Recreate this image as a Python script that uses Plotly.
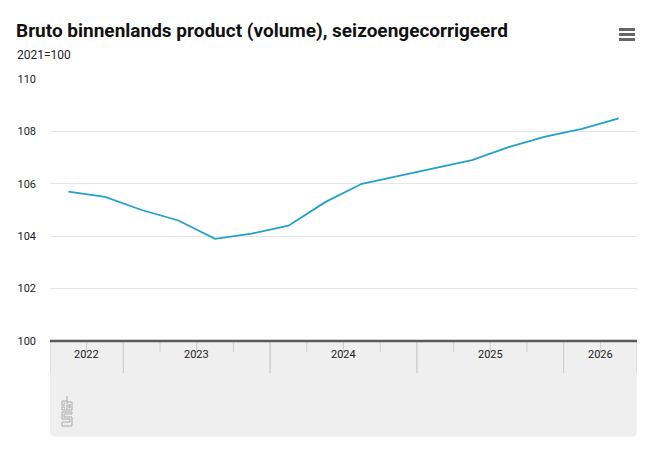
import plotly.graph_objects as go

quarters = [
    "2022-Q3", "2022-Q4",
    "2023-Q1", "2023-Q2", "2023-Q3", "2023-Q4",
    "2024-Q1", "2024-Q2", "2024-Q3", "2024-Q4",
    "2025-Q1", "2025-Q2", "2025-Q3", "2025-Q4",
    "2026-Q1", "2026-Q2",
]
bbp = [105.7, 105.5, 105.0, 104.6, 103.9, 104.1, 104.4, 105.3,
       106.0, 106.3, 106.6, 106.9, 107.4, 107.8, 108.1, 108.5]
years = ["2022", "2023", "2024", "2025", "2026"]
y_ticks = [100, 102, 104, 106, 108, 110]

font = "Liberation Sans Narrow, Roboto, Arial Narrow, sans-serif"
idx = list(range(len(quarters)))

# page has an 8px body margin, so plot area is placed 8px up/left
L, T, PW, PH = 42, 71, 587, 262


def px(x):
    # screen x -> paper x
    return (x - 8 - L) / PW


def py(y):
    # screen y -> paper y
    return (T + PH - (y - 8)) / PH


fig = go.Figure()
fig.add_trace(go.Scatter(
    x=idx, y=bbp, mode="lines",
    line=dict(color="#23a1c6", width=1.8),
    hoverinfo="y",
))

# grey footer box under the x axis (rounded bottom corners)
rx, ry = 0.011, 0.024
y0 = py(437)
fig.add_shape(
    type="path", xref="paper", yref="paper", layer="below",
    path=(f"M 0,0 L 1,0 L 1,{y0 + ry} Q 1,{y0} {1 - rx},{y0} "
          f"L {rx},{y0} Q 0,{y0} 0,{y0 + ry} Z"),
    fillcolor="#efefef", line=dict(width=0),
)

# year separators and labels, quarter ticks
first = 0
for yr in years:
    n = sum(1 for q in quarters if q.startswith(yr))
    last = first + n - 1
    fig.add_annotation(
        x=(first + last) / 2, y=py(363), xref="x", yref="paper",
        text=yr, showarrow=False, font=dict(size=11, color="#222", family=font),
    )
    for b in (first - 0.5, last + 0.5):
        fig.add_shape(type="line", xref="x", yref="paper", x0=b, x1=b,
                      y0=0, y1=py(373), line=dict(color="#cfcfcf", width=1))
    for j in range(first, last):
        fig.add_shape(type="line", xref="x", yref="paper", x0=j + 0.5, x1=j + 0.5,
                      y0=0, y1=py(352), line=dict(color="#cfcfcf", width=1))
    first = last + 1

# axis base line
fig.add_shape(type="line", xref="paper", yref="paper", x0=0, x1=1, y0=0, y1=0,
              line=dict(color="#5a5a5a", width=2.5))

# cbs logo (rough outline)
logo_paths = [
    [(67, 401), (62, 401), (62, 410), (67, 410)],
    [(65, 403), (64, 403), (64, 408), (65, 408)],
    [(67, 396), (67, 410), (72, 410), (72, 402), (67, 402)],
    [(69, 404), (69, 408), (70, 408), (70, 404)],
    [(72, 412), (62, 412), (62, 419), (70, 419), (70, 422), (62, 422), (62, 426), (72, 426),
     (72, 417), (64, 417), (64, 414), (72, 414), (72, 412)],
]
for pts in logo_paths:
    d = "M " + " L ".join(f"{px(a)},{py(b)}" for a, b in pts)
    fig.add_shape(type="path", xref="paper", yref="paper", path=d,
                  line=dict(color="#aaaaaa", width=1))

# menu icon
for yy in (29.5, 34.5, 39.5):
    fig.add_shape(type="line", xref="paper", yref="paper",
                  x0=px(619), x1=px(635), y0=py(yy), y1=py(yy),
                  line=dict(color="#666666", width=3))

fig.update_layout(
    width=671, height=457,
    margin=dict(l=L, r=671 - L - PW, t=T, b=457 - T - PH),
    paper_bgcolor="white", plot_bgcolor="white",
    showlegend=False,
    font=dict(family=font, color="#222"),
    title=dict(
        text="<b>Bruto binnenlands product (volume), seizoengecorrigeerd</b>",
        x=8 / 671, xanchor="left", y=1 - 22 / 457, yanchor="middle",
        font=dict(size=19, color="#111", family=font),
    ),
)
fig.add_annotation(
    text="2021=100", xref="paper", yref="paper", x=px(15), y=py(55),
    xanchor="left", yanchor="middle", showarrow=False,
    font=dict(size=12, color="#222", family=font),
)
fig.update_xaxes(
    range=[-0.5, len(quarters) - 0.5], showgrid=False, zeroline=False,
    showticklabels=False, showline=False, ticks="", automargin=False,
)
fig.update_yaxes(
    range=[100, 110], tickvals=y_ticks, showgrid=True, gridcolor="#e6e6e6",
    gridwidth=1, zeroline=False, showline=False, ticks="", automargin=False,
    ticklabelstandoff=13, tickfont=dict(size=11, color="#222", family=font),
)

fig.write_html("out.html")
